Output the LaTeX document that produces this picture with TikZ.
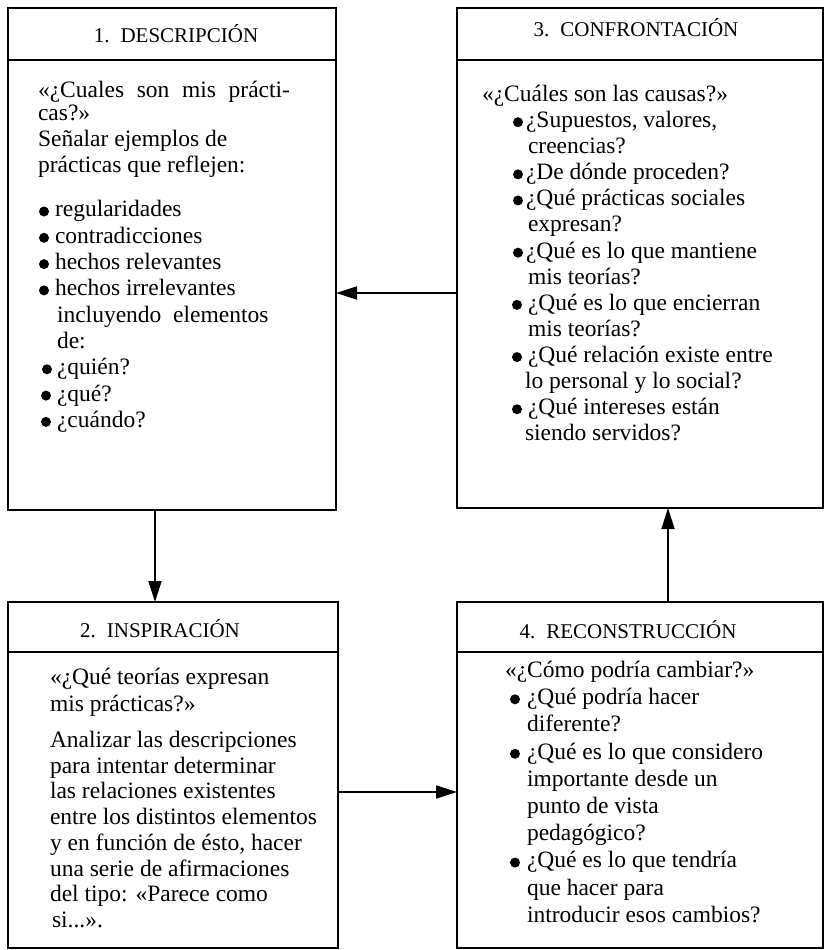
\documentclass[tikz,border=0pt]{standalone}
\usepackage{fontspec}
\usepackage{graphicx}
\setmainfont{Liberation Serif}
\usetikzlibrary{arrows.meta}
\newcommand\blt{\tikz[x=1pt,y=1pt,baseline=0pt]\fill (5pt,5.4pt) circle (5pt);}
\newcommand\itm[2]{\hspace*{#1}\makebox[#2][l]{\blt}}
\tikzset{
  box/.style={draw, line width=1.8pt, inner sep=0pt, outer sep=0pt, anchor=north west},
  hdr/.style={font=\fontsize{21}{24}\selectfont, anchor=base, inner sep=0pt},
  body/.style={anchor=north west, inner sep=0pt, outer sep=0pt, align=left},
  rule/.style={line width=1.8pt},
  arr/.style={line width=1.8pt, -{Triangle[length=21pt,width=13pt]}},
}
\begin{document}
\begin{tikzpicture}[x=1pt,y=-1pt]
\useasboundingbox (0,0) rectangle (824,950);
\fill[white] (0,0) rectangle (824,950);

% boxes
\node[box, minimum width=328pt, minimum height=502pt] (b1) at (8,8) {};
\node[box, minimum width=330pt, minimum height=346pt] (b2) at (8,602) {};
\node[box, minimum width=366pt, minimum height=500pt] (b3) at (457,8) {};
\node[box, minimum width=366pt, minimum height=346pt] (b4) at (457,602) {};

% header rules
\draw[rule] ([yshift=-52pt]b1.north west) -- ([yshift=-52pt]b1.north east);
\draw[rule] ([yshift=-50pt]b2.north west) -- ([yshift=-50pt]b2.north east);
\draw[rule] ([yshift=-52pt]b3.north west) -- ([yshift=-52pt]b3.north east);
\draw[rule] ([yshift=-50pt]b4.north west) -- ([yshift=-50pt]b4.north east);

% titles
\node[hdr] (t1) at (176,43) {1.\hspace{11pt}DESCRIPCIÓN};
\node[hdr] (t2) at (160,637) {2.\hspace{11pt}INSPIRACIÓN};
\node[hdr] (t3) at (636,37) {3.\hspace{11pt}CONFRONTACIÓN};
\node[hdr] (t4) at (628,638) {4.\hspace{11pt}RECONSTRUCCIÓN};

% bodies
\node[body, font=\fontsize{23.5}{26.3}\selectfont] (d1) at (38,78.6) {\strut\makebox[252pt][s]{«¿Cuales son mis prácti-}\\[-3pt]
cas?»\\
Señalar ejemplos de\\
prácticas que reflejen:\\[17.7pt]
\itm{1pt}{16pt}regularidades\\
\itm{1pt}{16pt}contradicciones\\
\itm{1pt}{16pt}hechos relevantes\\
\itm{1pt}{16pt}hechos irrelevantes\\
\hspace*{19pt}incluyendo\ \ elementos\\
\hspace*{19pt}de:\\
\itm{4pt}{15pt}¿quién?\\
\itm{3pt}{16pt}¿qué?\\
\itm{3pt}{16pt}¿cuándo?};

\node[body, font=\fontsize{23.5}{26.1}\selectfont] (d3) at (482,83.2) {\strut«¿Cuáles son las causas?»\\
\itm{31pt}{13pt}¿Supuestos, valores,\\
\hspace*{46pt}creencias?\\
\itm{31pt}{13pt}¿De dónde proceden?\\
\itm{31pt}{13pt}¿Qué prácticas sociales\\
\hspace*{46pt}expresan?\\
\itm{31pt}{13pt}¿Qué es lo que mantiene\\
\hspace*{46pt}mis teorías?\\
\itm{30pt}{16pt}¿Qué es lo que encierran\\
\hspace*{46pt}mis teorías?\\
\itm{30pt}{16pt}¿Qué relación existe entre\\
\hspace*{43pt}lo personal y lo social?\\
\itm{30pt}{16pt}¿Qué intereses están\\
\hspace*{43pt}siendo servidos?};

\node[body, font=\fontsize{23.5}{25.7}\selectfont] (d2) at (50,666.5) {\strut«¿Qué teorías expresan\\[1.3pt]
mis prácticas?»\\[10.3pt]
Analizar las descripciones\\
para intentar determinar\\
las relaciones existentes\\
entre los distintos elementos\\
y en función de ésto, hacer\\
una serie de afirmaciones\\
del tipo: «Parece como\\
\hspace*{2pt}si...».};

\node[body, font=\fontsize{23.5}{27.2}\selectfont] (d4) at (505,658.5) {\strut«¿Cómo podría cambiar?»\\
\itm{5pt}{17pt}¿Qué podría hacer\\
\hspace*{22pt}diferente?\\
\itm{5pt}{17pt}¿Qué es lo que considero\\
\hspace*{22pt}importante desde un\\
\hspace*{22pt}punto de vista\\
\hspace*{22pt}pedagógico?\\
\itm{5pt}{17pt}¿Qué es lo que tendría\\
\hspace*{22pt}que hacer para\\
\hspace*{22pt}introducir esos cambios?};

% connectors
\draw[arr] ([xshift=147pt]b1.south west) -- ([xshift=147pt]b2.north west);
\draw[arr] ([yshift=-285pt]b3.north west) -- ([yshift=-285pt]b1.north east);
\draw[arr] ([yshift=-190pt]b2.north east) -- ([yshift=-190pt]b4.north west);
\draw[arr] ([xshift=211pt]b4.north west) -- ([xshift=211pt]b3.south west);
\end{tikzpicture}
\end{document}
